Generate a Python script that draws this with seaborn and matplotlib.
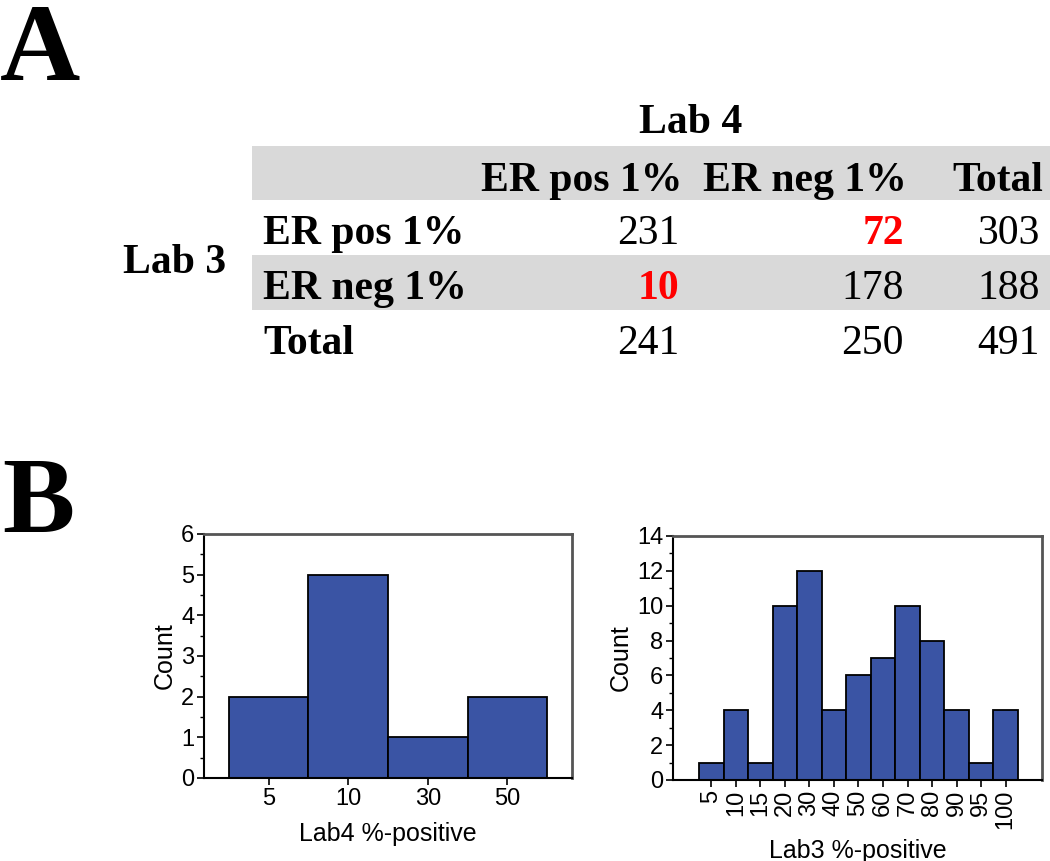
import matplotlib
matplotlib.use("Agg")
import matplotlib.pyplot as plt
from matplotlib.patches import Rectangle
from matplotlib.ticker import MultipleLocator
import pandas as pd
import seaborn as sns

# panel A: Lab 3 (rows) vs Lab 4 (columns) at the 1% cut-off
col_labels = ["ER pos 1%", "ER neg 1%", "Total"]
row_labels = ["ER pos 1%", "ER neg 1%", "Total"]
counts = [[231, 72, 303],
          [10, 178, 188],
          [241, 250, 491]]
discordant = [(0, 1), (1, 0)]

# panel B: %-positive histograms
lab4_bins = ["5", "10", "30", "50"]
lab4_counts = [2, 5, 1, 2]
lab3_bins = ["5", "10", "15", "20", "30", "40", "50", "60", "70", "80", "90", "95", "100"]
lab3_counts = [1, 4, 1, 10, 12, 4, 6, 7, 10, 8, 4, 1, 4]

BAR_COLOR = "#3A54A4"
BAND_COLOR = "#D9D9D9"
SERIF = ["Liberation Serif", "DejaVu Serif"]
SANS = ["Liberation Sans", "DejaVu Sans"]

sns.set_style("ticks")
plt.rcParams["font.family"] = SANS
plt.rcParams.update({"text.color": "black", "axes.labelcolor": "black",
                     "xtick.color": "black", "ytick.color": "black"})

fig = plt.figure(figsize=(10.5, 8.61), dpi=100)

# overlay in pixel coords for the table and panel letters
ov = fig.add_axes([0, 0, 1, 1])
ov.set_xlim(0, 1050)
ov.set_ylim(861, 0)
ov.axis("off")

ov.text(0, 80, "A", fontsize=80, fontweight="bold", family=SERIF, va="baseline")
ov.text(2, 532, "B", fontsize=78, fontweight="bold", family=SERIF, va="baseline")

# table layout
col_right = [682, 907, 1043]
header_base = 191
row_base = [244, 299, 354]
label_left = 263
for top, bot in [(146, 200), (255, 310)]:
    ov.add_patch(Rectangle((252, top), 1050 - 252, bot - top, color=BAND_COLOR, lw=0))

tkw = dict(fontsize=30, family=SERIF, va="baseline", color="black")
ov.text(691, 133, "Lab 4", ha="center", fontweight="bold", **tkw)
ov.text(123, 273, "Lab 3", ha="left", fontweight="bold", **tkw)
for j, lab in enumerate(col_labels):
    ov.text(col_right[j], header_base, lab, ha="right", fontweight="bold", **tkw)
for i, lab in enumerate(row_labels):
    ov.text(label_left, row_base[i], lab, ha="left", fontweight="bold", **tkw)
    for j, v in enumerate(counts[i]):
        hot = (i, j) in discordant
        kw = dict(tkw, color="#FF0000" if hot else "black")
        ov.text(col_right[j] - 3, row_base[i], str(v), ha="right",
                fontweight="bold" if hot else "normal", **kw)


def histo(ax, bins, vals, xlim, ylim, major, minor, xlabel, rot, lpad):
    df = pd.DataFrame({"bin": bins, "count": vals})
    sns.barplot(data=df, x="bin", y="count", order=bins, color=BAR_COLOR,
                saturation=1, width=1.0, edgecolor="black", linewidth=1.3, ax=ax)
    ax.set_xlim(*xlim)
    ax.set_ylim(*ylim)
    ax.yaxis.set_major_locator(MultipleLocator(major))
    ax.yaxis.set_minor_locator(MultipleLocator(minor))
    ax.tick_params(axis="both", which="major", direction="out", length=5, width=1.2,
                   labelsize=17, pad=2, color="black", labelcolor="black")
    ax.tick_params(axis="y", which="minor", direction="out", length=3, width=1)
    ax.tick_params(axis="x", labelrotation=rot)
    ax.set_xlabel(xlabel, fontsize=18, labelpad=lpad)
    ax.set_ylabel("Count", fontsize=18, labelpad=3)
    for s in ["left", "bottom"]:
        ax.spines[s].set_color("black")
        ax.spines[s].set_linewidth(1.5)
    for s in ["top", "right"]:
        ax.spines[s].set_visible(True)
        ax.spines[s].set_color("#555555")
        ax.spines[s].set_linewidth(2)


ax1 = fig.add_axes([204 / 1050, 1 - 778 / 861, 368 / 1050, 244 / 861])
histo(ax1, lab4_bins, lab4_counts, (-0.81, 3.81), (0, 6), 1, 0.5, "Lab4 %-positive", 0, 9)

ax2 = fig.add_axes([673 / 1050, 1 - 780 / 861, 369 / 1050, 244 / 861])
histo(ax2, lab3_bins, lab3_counts, (-1.56, 13.48), (0, 14), 2, 1, "Lab3 %-positive", 90, 7)

fig.savefig("out.png", dpi=100)
